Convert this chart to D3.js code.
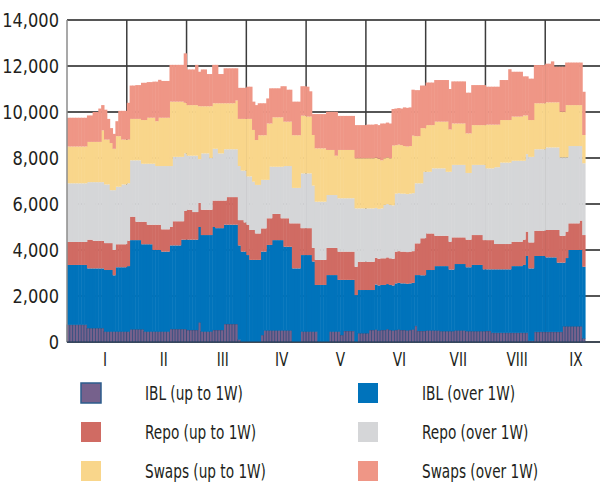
<!DOCTYPE html>
<html>
<head>
<meta charset="utf-8">
<title>IBL, Repo, Swaps</title>
<script src="https://d3js.org/d3.v7.min.js"></script>
<style>
  body { margin: 0; background: #fff; }
  svg { display: block; }
  text {
    font-family: "Liberation Sans Narrow", "DejaVu Sans Condensed", "Roboto Condensed", sans-serif;
    font-stretch: condensed;
    fill: #231f20;
  }
</style>
</head>
<body>
<svg width="600" height="483"></svg>
<script>
// month labels on the x axis, 21 trading days per month (September partial)
const months = ["I", "II", "III", "IV", "V", "VI", "VII", "VIII", "IX"];
const daysPerMonth = 21;
const yTicks = [0, 2000, 4000, 6000, 8000, 10000, 12000, 14000];

const seriesKeys = ["iblShort", "iblLong", "repoShort", "repoLong", "swapShort", "swapLong"];
const seriesLabels = ["IBL (up to 1W)", "IBL (over 1W)", "Repo (up to 1W)", "Repo (over 1W)", "Swaps (up to 1W)", "Swaps (over 1W)"];

// daily values, one line per month
const iblShort = [
  750,750,750,750,750,750,750,600,600,600,600,600,600,450,450,450,450,450,450,450,450,
  450,550,550,550,550,550,450,450,450,450,450,450,450,450,450,560,560,560,560,560,560,
  520,520,520,520,850,450,450,450,450,520,520,520,520,780,780,780,780,780,100,0,0,
  0,0,0,0,0,300,500,500,500,500,500,500,500,500,500,500,0,0,0,450,450,
  450,450,450,450,0,0,0,0,450,450,450,450,300,480,480,480,480,0,380,380,380,
  380,520,520,540,500,520,520,560,520,500,520,540,520,520,500,520,540,700,480,480,480,
  500,500,500,500,500,470,470,470,470,470,500,500,500,500,470,470,470,470,470,470,470,
  480,480,400,400,400,400,400,400,400,400,400,400,400,400,400,50,50,440,440,440,440,
  440,440,440,440,440,440,680,680,680,680,680,680,680,150
];
const iblLong = [
  2600,2600,2600,2600,2600,2600,2600,2600,2600,2600,2600,2600,2600,2680,2680,2680,2450,2800,2800,2800,2800,
  2850,3880,3880,3880,3880,3700,3800,3800,3800,3550,3550,3550,3480,3480,3480,3640,3640,3640,3640,3890,3890,
  3930,3930,3930,3930,4150,4200,4200,4200,4200,4480,4430,4430,4430,4320,4320,4320,4320,4320,4100,3930,3930,
  3780,3570,3570,3570,3570,3630,3430,3720,3720,3930,3930,3930,3930,3640,3640,3640,3200,3200,3200,3330,3330,
  3330,3330,3050,2030,2480,2480,2480,2910,2460,2460,2460,2250,2400,2220,2220,2220,2220,2040,1880,1880,1880,
  1880,1740,1740,1960,1960,1960,1960,1960,1960,1960,2030,2030,2030,2030,2030,2030,2030,2210,2430,2420,2420,
  2630,2630,2630,2800,2800,2830,2830,2830,2680,2680,2890,2890,2890,2890,2780,2780,2880,2880,2880,2880,2690,
  2680,2680,2760,2760,2760,2760,2760,2760,2760,2900,2900,2900,2900,2950,3340,3150,3150,3300,3300,3300,3300,
  3240,3240,3240,3240,3010,3010,2770,2970,3320,3320,3320,3320,3320,3120
];
const repoShort = [
  1000,1000,1000,1000,1000,1000,1000,1250,1250,1200,1200,1200,1200,1170,1170,1170,1100,1000,1000,1000,1000,
  1100,1020,1020,800,800,980,980,850,850,1100,1100,1100,970,970,970,800,1050,1050,1050,800,1250,
  1300,1300,1200,1200,1050,1100,1100,1100,1100,1150,1200,1200,1200,1050,1200,1200,1200,1200,1100,1370,1270,
  1320,1300,1300,1150,1150,1010,1010,1160,1160,1140,1140,1140,950,1240,1240,1020,1960,1960,1960,1170,1170,
  1170,1170,590,1090,1090,1090,1090,1180,1180,1180,1180,1230,1230,1230,1230,1230,1230,1230,1230,1230,1230,
  1230,1230,1230,1160,1160,1160,1160,1160,1160,1160,1380,1380,1380,1380,1380,1380,1380,1380,1380,1610,1610,
  1590,1590,1590,1320,1320,1320,1320,1320,1210,1400,1160,1160,1160,1160,1200,1200,1300,1300,1300,1300,1270,
  1270,1270,1270,1100,1100,1100,1100,1100,1100,1060,1060,1060,1060,1100,1060,1130,1130,1100,1100,1100,1100,
  1190,1190,1190,1190,1420,1170,1170,1150,1160,1160,1160,1160,1280,1380
];
const repoLong = [
  2550,2550,2550,2550,2550,2550,2550,2500,2500,2550,2550,2550,2550,2550,2550,2300,2600,2500,2500,2600,2600,
  2500,2450,2450,2670,2670,2520,2520,2650,2650,2650,2550,2550,2750,2750,2750,2650,2800,2800,2800,2800,2500,
  2350,2350,2450,2450,1900,2450,2450,2450,2250,2250,2250,2050,2050,2230,2080,2080,2080,2080,2350,2150,2250,
  2100,2330,2100,2110,2110,2110,2110,1670,2240,2050,2050,2050,2240,2270,2270,2490,1540,1540,1540,2380,2380,
  2380,2380,2710,2530,2530,2530,2530,2300,2300,2300,2300,2320,2320,2320,2320,2320,2320,2540,2320,2320,2320,
  2320,2320,2320,2170,2170,2170,2320,2320,2320,2320,2520,2520,2520,2520,2520,2520,2520,2610,2610,2390,2890,
  2680,2680,2830,2930,2930,2930,2930,2780,3040,3150,3150,3150,3150,3150,2900,2900,3050,3050,3050,3050,3270,
  3120,3120,3120,3340,3340,3540,3540,3540,3540,3520,3520,3520,3520,3430,3370,3720,3720,3540,3540,3540,3540,
  3590,3590,3590,3590,3590,3410,3410,3230,3360,3360,3360,3360,3240,3120
];
const swapShort = [
  1600,1600,1600,1600,1600,1600,1600,1750,1750,1750,1750,1750,2250,1950,1950,2050,1800,2200,2200,1950,1950,
  1900,1800,1800,1800,1800,1900,1900,2000,2000,2000,1950,2100,2100,2100,2100,2800,2400,2400,2400,2400,2200,
  2200,2200,2200,2200,2300,2050,2050,2050,2250,1980,1980,2180,2180,2000,2000,2000,2000,2120,2050,2250,2250,
  2500,2500,2250,1950,2160,1940,1940,2450,1880,2150,2150,2150,2150,1930,1930,1930,2290,2290,2290,2510,2510,
  2470,2470,2200,2320,2320,2320,2320,1960,1960,1960,1710,2100,2100,2100,2100,2100,2100,2180,2180,2180,2180,
  2180,2180,2180,2180,2180,2090,2030,2030,2030,2600,2110,2110,2110,2070,2070,2070,2500,2050,2050,2400,1900,
  2030,2030,1880,2030,2030,2030,2030,2180,1840,1800,1800,1800,1800,1800,1720,1720,1730,1730,1730,1730,1730,
  1900,1900,1900,1850,1850,1850,1850,1850,1850,1920,1920,1920,1920,1970,1680,1600,1600,2000,2000,2000,2000,
  1960,1960,1960,1960,1960,1980,1980,2270,1780,1780,1780,1780,1780,1230
];
const swapLong = [
  1250,1250,1250,1250,1250,1250,1250,1150,1150,1300,1300,1450,1100,1300,900,650,650,650,1100,1250,1250,
  1600,1450,1450,1470,1470,1620,1620,1550,1550,1570,1720,1650,1600,1600,1600,1600,1600,1600,1600,1600,2150,
  1550,1550,1550,1750,1500,1600,1600,1400,1400,1670,1670,1270,1270,1520,1520,1520,1520,1400,1350,1350,1350,
  1400,1400,1230,1520,1390,1390,1390,1090,1530,1260,1260,1260,1350,1540,1390,1390,1460,1460,1460,1280,1280,
  1300,1100,910,1490,1490,1490,1490,1660,1660,1660,1910,1480,1480,1480,1480,1480,1480,1440,1440,1440,1440,
  1460,1460,1460,1460,1460,1600,1510,1510,1510,1590,1590,1590,1590,1680,1680,1680,2000,2000,2000,1850,1850,
  1850,1850,1850,1810,1810,1810,1810,1810,1760,1830,1830,1830,1830,1830,1770,1770,1740,1740,1740,1740,1740,
  1650,1650,1650,1650,1650,1740,1740,1740,2210,1950,1950,1950,1950,1700,1700,1800,1800,1660,1660,1660,1660,
  1680,1680,1780,1550,1550,1960,1960,1850,1850,1850,1850,1850,1850,1880
];

const colors = ["#76618c", "#0073bb", "#d06b63", "#d5d6d8", "#f9d68b", "#ef9686"];

// build the table d3.stack needs
const seriesData = { iblShort, iblLong, repoShort, repoLong, swapShort, swapLong };
const table = iblShort.map((_, i) => {
  const row = { day: i };
  seriesKeys.forEach(k => row[k] = seriesData[k][i]);
  return row;
});

const svg = d3.select("svg");
const plotLeft = 67, plotRight = 605, plotTop = 20, plotBottom = 342;
const squeeze = 0.8; // the original type is a narrow condensed face

const x = d3.scaleBand()
  .domain(d3.range(months.length * daysPerMonth))
  .range([plotLeft, plotRight])
  .paddingInner(0).paddingOuter(0);
const y = d3.scaleLinear().domain([0, 14000]).range([plotBottom, plotTop]);
const xLabel = d3.scalePoint().domain(months).range([105, 576]);

// grid behind the bars
const grid = svg.append("g");
grid.selectAll("line.h")
  .data(yTicks)
  .enter().append("line")
  .attr("x1", plotLeft).attr("x2", 600)
  .attr("y1", d => y(d)).attr("y2", d => y(d))
  .attr("stroke", "#1e1e1e").attr("stroke-width", 1.5);
grid.selectAll("line.v")
  .data(d3.range(1, months.length))
  .enter().append("line")
  .attr("x1", d => x(d * daysPerMonth)).attr("x2", d => x(d * daysPerMonth))
  .attr("y1", y(14000)).attr("y2", y(0))
  .attr("stroke", "#3c3c3c").attr("stroke-width", 1.5);

// stacked bars
const stacked = d3.stack().keys(seriesKeys)(table);
const bw = x.bandwidth();

svg.append("g").selectAll("g")
  .data(stacked)
  .enter().append("g")
  .attr("fill", (d, i) => colors[i])
  .each(function (layer, li) {
    d3.select(this).selectAll("rect")
      .data(layer)
      .enter().append("rect")
      .attr("x", d => x(d.data.day))
      .attr("width", li === 0 ? bw : bw + 0.5)
      .attr("y", d => y(d[1]))
      .attr("height", d => Math.max(0, y(d[0]) - y(d[1])))
      .attr("stroke", li === 0 ? "#2f4c7c" : "none")
      .attr("stroke-width", li === 0 ? 0.7 : 0);
  });

// left axis line and zero line on top
svg.append("line")
  .attr("x1", plotLeft).attr("x2", plotLeft).attr("y1", y(14000)).attr("y2", y(0))
  .attr("stroke", "#8c8c8c").attr("stroke-width", 1.5);
svg.append("line")
  .attr("x1", plotLeft).attr("x2", 600).attr("y1", y(0)).attr("y2", y(0))
  .attr("stroke", "#2a3f55").attr("stroke-width", 1.2);

// y tick labels
svg.append("g").selectAll("text")
  .data(yTicks)
  .enter().append("text")
  .attr("transform", d => `translate(59,${y(d)}) scale(0.95,1.05)`)
  .attr("dy", "0.35em")
  .attr("text-anchor", "end")
  .attr("font-size", 19)
  .text(d => d3.format(",")(d));

// x labels (months)
svg.append("g").selectAll("text")
  .data(months)
  .enter().append("text")
  .attr("transform", d => `translate(${xLabel(d)},359) scale(${squeeze},1.05)`)
  .attr("dy", "0.35em")
  .attr("text-anchor", "middle")
  .attr("font-size", 19)
  .text(d => d);

// legend, two columns
const legend = svg.append("g").selectAll("g")
  .data(seriesKeys)
  .enter().append("g")
  .attr("transform", (d, i) => `translate(${i % 2 === 0 ? 81 : 358},${383 + Math.floor(i / 2) * 39})`);
legend.append("rect")
  .attr("width", 20).attr("height", 20)
  .attr("fill", (d, i) => colors[i])
  .attr("stroke", (d, i) => i === 0 ? "#2d5c8c" : "none")
  .attr("stroke-width", 1.5);
legend.append("text")
  .attr("transform", `translate(64,10) scale(${squeeze},1.05)`)
  .attr("dy", "0.35em")
  .attr("font-size", 19)
  .text((d, i) => seriesLabels[i]);
</script>
</body>
</html>
